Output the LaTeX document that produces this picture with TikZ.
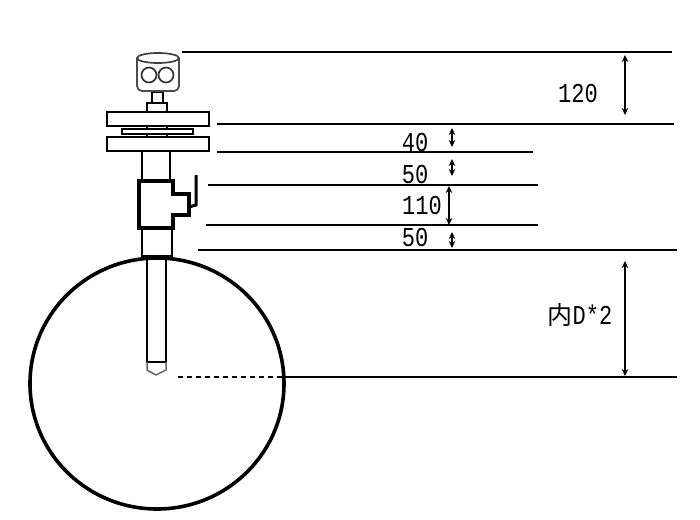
\documentclass[tikz,border=0pt]{standalone}
\usepackage{fontspec}
\usepackage{graphicx}
\usetikzlibrary{arrows.meta}
\setmainfont{Liberation Mono}
\newfontfamily\cjk{Noto Sans CJK SC}
\newcommand{\tall}[1]{\scalebox{1}[1.24]{#1}}
\begin{document}
\begin{tikzpicture}[x=1pt,y=-1pt,line width=1.3pt,>={Stealth[length=7pt,width=6.5pt]},
    part/.style={draw,line width=1.6pt,fill=white},
    thick part/.style={draw,line width=3.6pt,line join=miter},
    size/.style={font=\fontsize{22}{22}\selectfont,inner sep=0pt},
    dim/.style={<->,line width=1.4pt}]
    \useasboundingbox (0,0) rectangle (700,519);
    % probe
    \draw[part] (147,256) rectangle (166,362);
    \draw[line width=1.5pt,black!60] (147,362) -- (147,370) -- (156,375) -- (166,370) -- (166,362);
    % pipes and valve
    \draw[part] (142,151) rectangle (170,181);
    \draw[part] (142,228) rectangle (172,256);
    \draw[thick part] (139,181) -- (173,181) -- (173,194) -- (189,194) -- (189,215) -- (173,215) -- (173,228) -- (139,228) -- cycle;
    \draw[line width=3pt] (196,175) -- (196,205) -- (189,207);
    % vessel
    \coordinate (c) at (157,383.5);
    \draw[line width=3.6pt] (c) ellipse (127 and 125.5);
    % flanges
    \foreach \x in {147,167}
        \draw (\x,126) -- (\x,137);
    \draw[part] (107,112) rectangle (209,126);
    \draw[part] (122,129) rectangle (193,134);
    \draw[part] (107,137) rectangle (209,151);
    \draw[part] (147,103) rectangle (167,112);
    \draw[part] (152,92) rectangle (163,103);
    % head
    \draw[line width=1.8pt,black!70,rounded corners=5pt] (137,58) -- (137,91) -- (179,91) -- (179,58);
    \draw[line width=1.7pt,black!75] (158,58) ellipse (21 and 5);
    \foreach \x in {149,166}
        \draw[line width=1.7pt,black!80] (\x,75) circle (7.5);
    % levels
    \foreach \n/\a/\b/\y in {
        a/182/672/52,
        b/217/674/124,
        c1/217/533/152,
        d/208/538/185,
        e/206/538/225,
        f/198/677/250,
        g/285/677/377
    }
    \draw (\a,\y) coordinate (\n0) -- (\b,\y) coordinate (\n1);
    \coordinate (h) at (178,377);
    \draw[dash pattern=on 5pt off 4pt] (h) -- (g0);
    % sizes
    \node[size] (n120) at (578,94) {\tall{120}};
    \node[size] (n40) at (415,143) {\tall{40}};
    \node[size] (n50a) at (415,174.5) {\tall{50}};
    \node[size] (n110) at (422,206) {\tall{110}};
    \node[size] (n50b) at (415,238) {\tall{50}};
    \node[size] (nD) at (580,315) {{\cjk\fontsize{25}{25}\selectfont 内}\tall{D*2}};
    % arrows
    \foreach \x/\u/\v in {
        625/55/115,
        452/128/147,
        452/159/176,
        449/186/225,
        452/232/248,
        625/261/376
    }
    \draw[dim] (\x,\u) -- (\x,\v);
\end{tikzpicture}
\end{document}
